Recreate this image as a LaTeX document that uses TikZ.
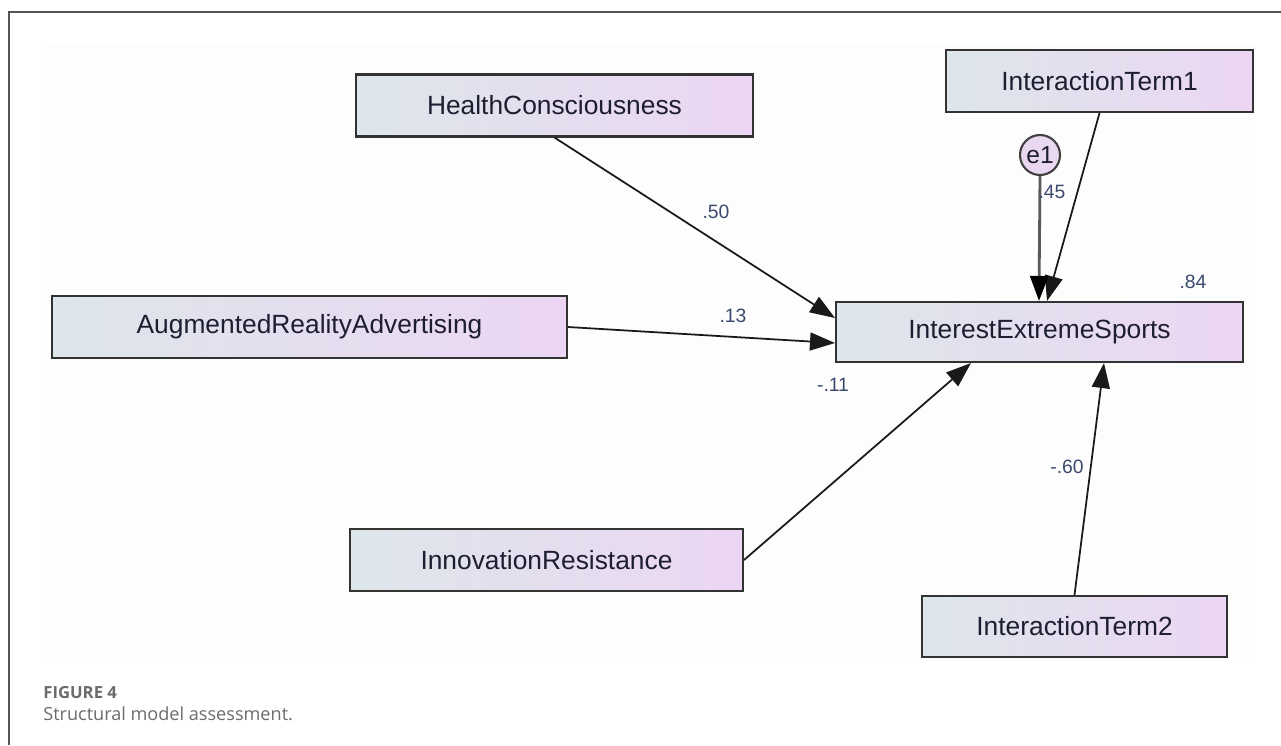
\documentclass[tikz,border=0pt]{standalone}
\usepackage{fontspec}
\setmainfont{Liberation Sans}
\newfontfamily\captionfont{Open Sans}
\usepackage{tikz}
\usetikzlibrary{arrows.meta, % for triangle tips
                calc, %for relative coord calculations
                positioning}

\definecolor{boxleft}{HTML}{DDE6EA}
\definecolor{boxright}{HTML}{ECD6F3}
\definecolor{errorfill}{HTML}{EAD8F0}
\definecolor{textdark}{HTML}{1E1E32}
\definecolor{weightblue}{HTML}{3B4A6E}
\definecolor{framegray}{HTML}{555555}
\definecolor{panelgray}{HTML}{FDFDFD}
\definecolor{captiongray}{HTML}{6B6B6B}

\begin{document}
\begin{tikzpicture}[x=0.02cm, y=-0.02cm,
                    Variable/.style={draw=black!80, line width=1.2pt, left color=boxleft, right color=boxright, minimum height=1.24cm, inner sep=0pt, font=\fontsize{15}{18}\selectfont, text=textdark},
                    Error/.style={draw=black!75, line width=1.2pt, circle, fill=errorfill, minimum size=0.8cm, inner sep=0pt, font=\fontsize{14}{16}\selectfont, text=textdark},
                    regress/.style={-{Triangle[length=5mm, width=3.6mm]}, line width=1pt, black!90},
                    residual/.style={-{Triangle[length=5mm, width=3.6mm, fill=black, color=black]}, line width=1.6pt, black!65},
                    coef/.style={font=\fontsize{11}{13}\selectfont, text=weightblue, inner sep=1pt}
                    ]
    \useasboundingbox (0,0) rectangle (1281,745);

    % FRAME %
    \fill[panelgray] (47,45) rectangle (1256,662);
    \draw[framegray, line width=0.8pt] (1281,12) -- (9,12) -- (9,745);

    % VARIABLES %
    \node[Variable, minimum width=7.94cm] (HC) at (554.5,105.5) {HealthConsciousness};
    \node[Variable, minimum width=10.3cm] (ARA) at (309.5,327) {AugmentedRealityAdvertising};
    \node[Variable, minimum width=7.86cm] (IR) at (546.5,560) {InnovationResistance};
    \node[Variable, minimum width=8.14cm, minimum height=1.2cm] (IES) at (1039.5,332) {InterestExtremeSports};
    \node[Variable, minimum width=6.14cm] (IT1) at (1099.5,81) {InteractionTerm1};
    \node[Variable, minimum width=6.1cm, minimum height=1.22cm] (IT2) at (1074.5,626.5) {InteractionTerm2};
    \node[Error] (e1) at (1040,155) {e1};

    % PATHS %
    \draw[regress] (HC.south) -- ($(IES.west)+(0,-14)$);
    \draw[regress] (ARA.east) -- ($(IES.west)+(0,11)$);
    \draw[regress] (IR.east) -- ($(IES.south west)+(136,0)$);
    \draw[regress] (IT2.north) -- ($(IES.south west)+(269,0)$);
    \draw[regress] (IT1.south) -- ($(IES.north west)+(212,0)$);
    \draw[residual] (e1.south) -- ($(IES.north west)+(204,0)$);

    % COEFFICIENTS %
    \foreach \name/\x/\y/\val in {cHC/716/212/.50, cARA/733/316/.13, cIR/833/385/-.11,
                                  cIT/1067/467/-.60, cE/1052/192/.45, cR/1193/282/.84}
    \node[coef] (\name) at (\x,\y) {\val};

    % CAPTION %
    \node[anchor=west, inner sep=0pt, text=captiongray, font=\captionfont\bfseries\fontsize{9.5}{11}\selectfont] (figno) at (43,693) {FIGURE 4};
    \node[anchor=west, inner sep=0pt, text=captiongray, font=\captionfont\fontsize{10.3}{13}\selectfont] (figtext) at (43,714) {Structural model assessment.};
\end{tikzpicture}
\end{document}
